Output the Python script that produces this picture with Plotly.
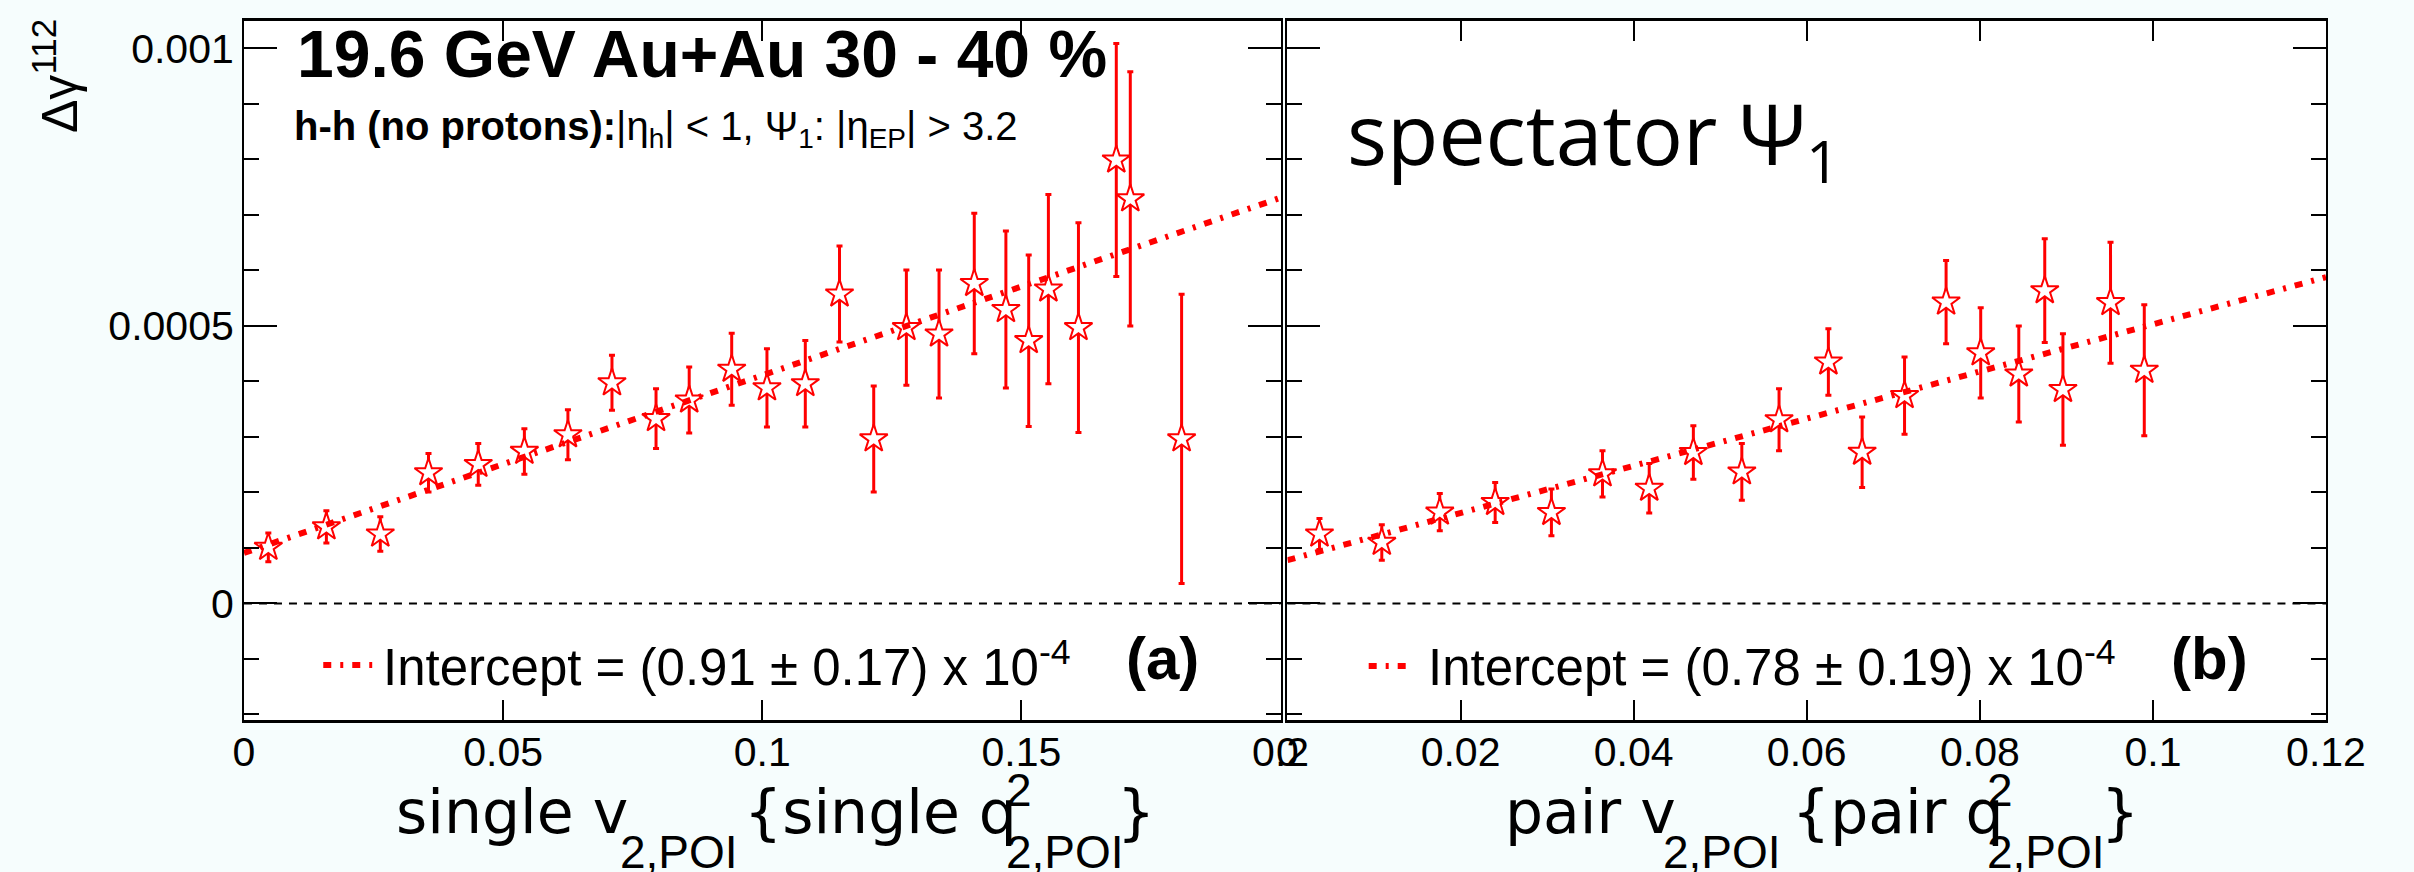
import plotly.graph_objects as go

W, H = 2414, 872

# ---------------- data ----------------
# panel (a): single v2,POI {single q2}
single_v2 = [0.0047, 0.0159, 0.0263, 0.0356, 0.0452, 0.0541, 0.0625, 0.0710, 0.0795, 0.0859,
             0.0941, 0.1009, 0.1083, 0.1149, 0.1215, 0.1278, 0.1341, 0.1409, 0.1470, 0.1514,
             0.1552, 0.1610, 0.1683, 0.1710, 0.1809]
single_dg = [1.01, 1.38, 1.25, 2.355, 2.505, 2.74, 3.04, 3.975, 3.33, 3.665,
             4.22, 3.885, 3.96, 5.575, 2.965, 4.97, 4.855, 5.765, 5.295, 4.735,
             5.665, 4.97, 7.99, 7.29, 2.965]          # x 1e-4
single_err = [0.26, 0.29, 0.31, 0.345, 0.375, 0.41, 0.45, 0.495, 0.54, 0.595,
              0.65, 0.705, 0.78, 0.865, 0.955, 1.04, 1.155, 1.265, 1.415, 1.545,
              1.705, 1.89, 2.10, 2.29, 2.605]          # x 1e-4

# panel (b): pair v2,POI {pair q2}
pair_v2 = [0.0037, 0.0109, 0.0176, 0.0240, 0.0305, 0.0364, 0.0418, 0.0469, 0.0525, 0.0568,
           0.0625, 0.0664, 0.0713, 0.0761, 0.0801, 0.0845, 0.0875, 0.0896, 0.0951, 0.0990]
pair_dg = [1.25, 1.10, 1.645, 1.82, 1.64, 2.335, 2.075, 2.72, 2.37, 3.31,
           4.35, 2.725, 3.745, 5.43, 4.515, 4.135, 5.635, 3.855, 5.42, 4.20]   # x 1e-4
pair_err = [0.28, 0.32, 0.335, 0.36, 0.42, 0.415, 0.445, 0.48, 0.51, 0.56,
            0.60, 0.635, 0.695, 0.75, 0.815, 0.865, 0.935, 1.005, 1.09, 1.18]   # x 1e-4

# linear fits
fit_a = dict(intercept=0.91e-4, slope=0.0032, xmax=0.2)
fit_b = dict(intercept=0.78e-4, slope=0.00425, xmax=0.12)

y_ticks = [0, 0.0005, 0.001]
y_ticktext = ["0", "0.0005", "0.001"]
xa_ticks = [0, 0.05, 0.1, 0.15, 0.2]
xa_ticktext = ["0", "0.05", "0.1", "0.15", "0.2"]
xb_ticks = [0, 0.02, 0.04, 0.06, 0.08, 0.1, 0.12]
xb_ticktext = ["0", "0.02", "0.04", "0.06", "0.08", "0.1", "0.12"]

# ---------------- helpers ----------------
def px(x):
    return x / W


def py(y):
    return 1 - y / H


RED = "#ff0000"
FIT_DASH = "8px,9px,3px,9px"
SANS = "Liberation Sans, Arial, Helvetica, sans-serif"
WIDE = "DejaVu Sans, Verdana, sans-serif"

fig = go.Figure()


def add_panel(xs, ys, errs, fit, xref, yref):
    fig.add_trace(go.Scatter(
        x=xs, y=[v * 1e-4 for v in ys], mode="markers",
        xaxis=xref, yaxis=yref, showlegend=False,
        marker=dict(symbol="star", size=21, color="white",
                    line=dict(color=RED, width=2)),
        error_y=dict(type="data", array=[e * 1e-4 for e in errs], visible=True,
                     color=RED, thickness=3, width=3),
    ))
    fx = [0, fit["xmax"]]
    fig.add_trace(go.Scatter(
        x=fx, y=[fit["intercept"] + fit["slope"] * v for v in fx], mode="lines",
        xaxis=xref, yaxis=yref, showlegend=False,
        line=dict(color=RED, width=6, dash=FIT_DASH),
    ))


add_panel(single_v2, single_dg, single_err, fit_a, "x", "y")
add_panel(pair_v2, pair_dg, pair_err, fit_b, "x2", "y2")

ydom = [1 - 720 / H, 1 - 20.7 / H]
common_y = dict(
    domain=ydom, range=[-0.00021, 0.00105], tickmode="array", tickvals=y_ticks,
    ticks="inside", ticklen=33, tickwidth=2, tickcolor="black",
    minor=dict(tickmode="linear", tick0=0, dtick=0.0001, ticks="inside",
               ticklen=15, tickwidth=2, tickcolor="black"),
    showline=True, linewidth=2, linecolor="black", mirror="ticks",
    showgrid=False, zeroline=False,
)
common_x = dict(
    ticks="inside", ticklen=20, tickwidth=2, tickcolor="black",
    showline=True, linewidth=3, linecolor="black", mirror="ticks",
    showgrid=False, zeroline=False, tickmode="array",
    tickfont=dict(family=SANS, size=41, color="black"), ticklabelstandoff=-6,
)

fig.update_layout(
    width=W, height=H, autosize=False,
    margin=dict(l=0, r=0, t=0, b=0, pad=0),
    paper_bgcolor="#f6fdfd", plot_bgcolor="white",
    showlegend=False,
    xaxis=dict(domain=[238 / W, 1297 / W], range=[0, 0.2], anchor="y",
               tickvals=xa_ticks, ticktext=xa_ticktext, **common_x),
    yaxis=dict(anchor="x", ticktext=y_ticktext, showticklabels=True,
               tickfont=dict(family=SANS, size=41, color="black"), **common_y),
    xaxis2=dict(domain=[1304 / W, 2365 / W], range=[0, 0.12], anchor="y2",
                tickvals=xb_ticks, ticktext=xb_ticktext, **common_x),
    yaxis2=dict(anchor="x2", showticklabels=False, **common_y),
)

# dashed zero lines
for xr, yr in (("x domain", "y"), ("x2 domain", "y2")):
    fig.add_shape(type="line", xref=xr, yref=yr, x0=0, x1=1, y0=0, y1=0,
                  line=dict(color="black", width=2, dash="8px,7px"))

# legend samples
for x0, x1, yy in ((319, 369, 665), (1387, 1433, 666)):
    fig.add_shape(type="line", xref="paper", yref="paper", x0=px(x0), x1=px(x1),
                  y0=py(yy), y1=py(yy), line=dict(color=RED, width=6, dash=FIT_DASH))


def ann(text, x, y, size, family=SANS, xanchor="left", yanchor="middle", angle=0):
    fig.add_annotation(text=text, x=px(x), y=py(y), xref="paper", yref="paper",
                       xanchor=xanchor, yanchor=yanchor, showarrow=False,
                       textangle=angle, borderpad=0,
                       font=dict(family=family, size=size, color="black"))


ann("<b>19.6 GeV Au+Au 30 - 40 %</b>", 291, 53.5, 66)
ann("<b>h-h (no protons):</b>|η<sub>h</sub>| &lt; 1, Ψ<sub>1</sub>: |η<sub>EP</sub>| &gt; 3.2",
    288, 129, 40)
ann("spectator Ψ<sub>1</sub>", 1364, 137, 84, family="Open Sans, Lato, sans-serif")
ann("Δγ<sup>112</sup>", 46, 18, 50, xanchor="center", yanchor="top", angle=-90)

# legend texts
ann("Intercept = (0.91 ± 0.17) x 10<sup>-4</sup>", 379, 663.5, 51)
ann("Intercept = (0.78 ± 0.19) x 10<sup>-4</sup>", 1447, 663.5, 51)
ann("<b>(a)</b>", 1138, 658, 60)
ann("<b>(b)</b>", 2206, 658, 60)

# x-axis titles, assembled from pieces
for piece, x, y, size, fam in (
    ("single v", 392, 812, 60, WIDE),
    ("2,POI", 621, 852, 46, SANS),
    ("{single q", 748, 812, 60, WIDE),
    ("2", 1015, 790, 46, SANS),
    ("2,POI", 1015, 852, 46, SANS),
    ("}", 1129, 812, 60, WIDE),
    ("pair v", 1525, 812, 60, WIDE),
    ("2,POI", 1687, 852, 46, SANS),
    ("{pair q", 1818, 812, 60, WIDE),
    ("2", 2018, 790, 46, SANS),
    ("2,POI", 2018, 852, 46, SANS),
    ("}", 2134, 812, 60, WIDE),
):
    ann(piece, x, y, size, family=fam)

fig.write_html("out.html")
